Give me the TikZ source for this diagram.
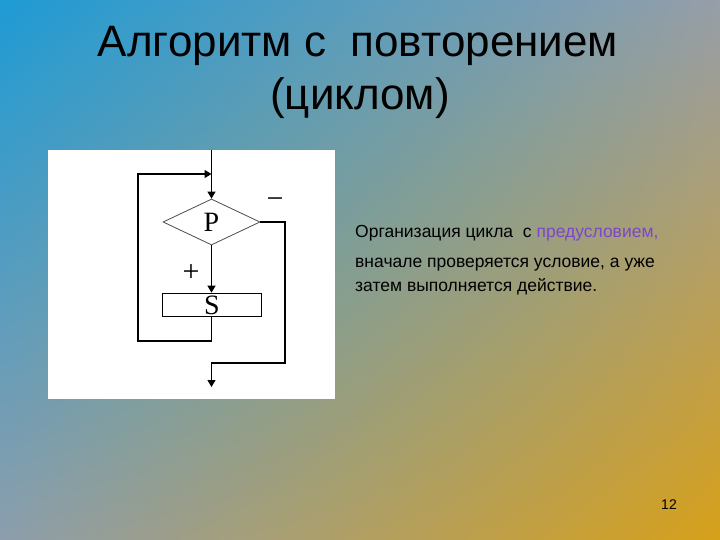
\documentclass[tikz,border=0pt]{standalone}
\usepackage{fontspec}
\setmainfont{Liberation Sans}
\newfontfamily\blockfont{Liberation Serif}
\usetikzlibrary{shapes.geometric,arrows.meta,shadings}

\definecolor{bgtl}{RGB}{30,155,212}
\definecolor{bgtr}{RGB}{150,158,168}
\definecolor{bgbl}{RGB}{140,158,172}
\definecolor{bgbr}{RGB}{215,160,25}
\definecolor{purpletext}{RGB}{125,70,200}

\begin{document}
\begin{tikzpicture}[x=1pt,y=-1pt,
	title/.style={font=\fontsize{44}{48}\selectfont},
	body/.style={font=\fontsize{17.5}{20}\selectfont, anchor=west, inner sep=0pt},
	flowline/.style={line width=1.2pt},
	flowarrow/.style={flowline, -{Triangle[width=8pt,length=7pt]}},
	cond/.style={diamond, draw=black!70, line width=0.8pt, aspect=2.1,
		minimum width=97pt, minimum height=46pt, inner sep=0pt,
		font=\blockfont\fontsize{28}{28}\selectfont},
	action/.style={rectangle, draw, line width=1.7pt,
		minimum width=99pt, minimum height=23pt, inner sep=0pt,
		font=\blockfont\fontsize{28}{28}\selectfont},
	sign/.style={font=\blockfont\fontsize{30}{30}\selectfont, inner sep=0pt}]

	% Background
	\useasboundingbox (0,0) rectangle (720,540);
	\shade[upper left=bgtl, upper right=bgtr, lower left=bgbl, lower right=bgbr]
		(0,0) rectangle (720,540);

	% Title
	\node[title] (title1) at (358,46) {Алгоритм с\ \ повторением};
	\node[title] (title2) at (360,98) {(циклом)};

	% Flowchart panel
	\fill[white] (48,150) rectangle (335,399);

	% Blocks
	\coordinate (top) at (211.5,150);
	\node[cond] (P) at (211.5,222) {P};
	\node[action] (S) at (212,305) {S};
	\node[sign] (minus) at (275,203) {−};
	\node[sign] (plus) at (191,273) {+};

	% Loop corners
	\coordinate (loopleft) at (138,341);
	\coordinate (looptop) at (211.5,174);
	% Exit corners
	\coordinate (exitright) at (285,363);
	\coordinate (exitend) at (211.5,387);

	% Connectors
	\draw[flowarrow] (top) -- (P.north);
	\draw[flowarrow] (P.south) -- (S.north -| P.south);
	\draw[flowarrow] (S.south -| P.south) |- (loopleft) |- (looptop);
	\draw[flowarrow] (P.east) -| (exitright) -| (exitend);

	% Text
	\node[body] (line1) at (355,233) {Организация цикла\ \ с \textcolor{purpletext}{предусловием,}};
	\node[body] (line2) at (355,265) {вначале проверяется условие, а уже};
	\node[body] (line3) at (355,287) {затем выполняется действие.};

	% Slide number
	\node[font=\fontsize{14}{16}\selectfont] (pagenum) at (669,505) {12};

\end{tikzpicture}
\end{document}
